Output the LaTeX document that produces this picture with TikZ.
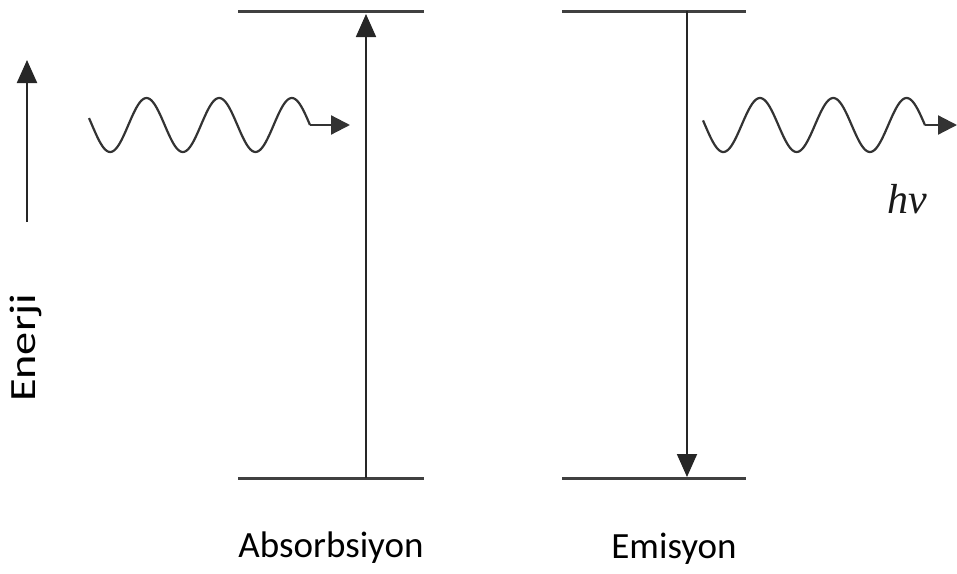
\documentclass[tikz,border=0pt]{standalone}
\usepackage{fontspec}
\setmainfont{Carlito}
\newfontfamily\hnufont{Liberation Serif}
\usetikzlibrary{arrows.meta}
\definecolor{lvl}{HTML}{404040}
\tikzset{
  level/.style={line width=3pt, draw=lvl},
  trans/.style={line width=1.8pt, draw=black!85, -{Triangle[length=23pt,width=20pt]}},
  wave/.style={line width=2.2pt, draw=black!80},
  photon/.style={line width=2.2pt, draw=black!80, -{Triangle[length=19pt,width=19pt]}},
  lbl/.style={font=\fontsize{37}{44}\selectfont, inner sep=0pt, anchor=base},
}
\begin{document}
\begin{tikzpicture}[x=1pt,y=-1pt]
\useasboundingbox (0,0) rectangle (957,573);
% levels
\coordinate (aTL) at (238,11); \coordinate (aTR) at (424,11);
\coordinate (aBL) at (238,478); \coordinate (aBR) at (424,478);
\coordinate (eTL) at (562,11); \coordinate (eTR) at (746,11);
\coordinate (eBL) at (562,478); \coordinate (eBR) at (746,478);
\draw[level] (aTL) -- (aTR);
\draw[level] (aBL) -- (aBR);
\draw[level] (eTL) -- (eTR);
\draw[level] (eBL) -- (eBR);
% transitions
\coordinate (aUp0) at (366,478); \coordinate (aUp1) at (366,14);
\coordinate (eDn0) at (687,11); \coordinate (eDn1) at (687,477);
\draw[trans] (aUp0) -- (aUp1);
\draw[trans] (eDn0) -- (eDn1);
% energy axis
\coordinate (en0) at (27,222); \coordinate (en1) at (27,60);
\draw[line width=2.2pt, draw=black!85, -{Triangle[length=23pt,width=20pt]}] (en0) -- (en1);
\node[lbl, rotate=90] (enerji) at (35,348) {\scalebox{1.25}[1]{Enerji}};
% photon in
\coordinate (w1e) at (310,125); \coordinate (w1t) at (350,125);
\draw[wave] plot[domain=89:310, samples=150, smooth] (\x, {125+27*sin(4.954*(\x-92))});
\draw[photon] (w1e) -- (w1t);
% photon out
\coordinate (w2e) at (925,125); \coordinate (w2t) at (957,125);
\draw[wave] plot[domain=703:925, samples=150, smooth] (\x, {125+27*sin(4.911*(\x-705))});
\draw[photon] (w2e) -- (w2t);
\node[font=\hnufont\itshape\fontsize{42}{48}\selectfont, text=black!90, inner sep=0pt, anchor=base] (hnu) at (907,213) {hν};
% labels
\node[lbl] (abs) at (331,557) {Absorbsiyon};
\node[lbl] (emi) at (674,558) {Emisyon};
\end{tikzpicture}
\end{document}
